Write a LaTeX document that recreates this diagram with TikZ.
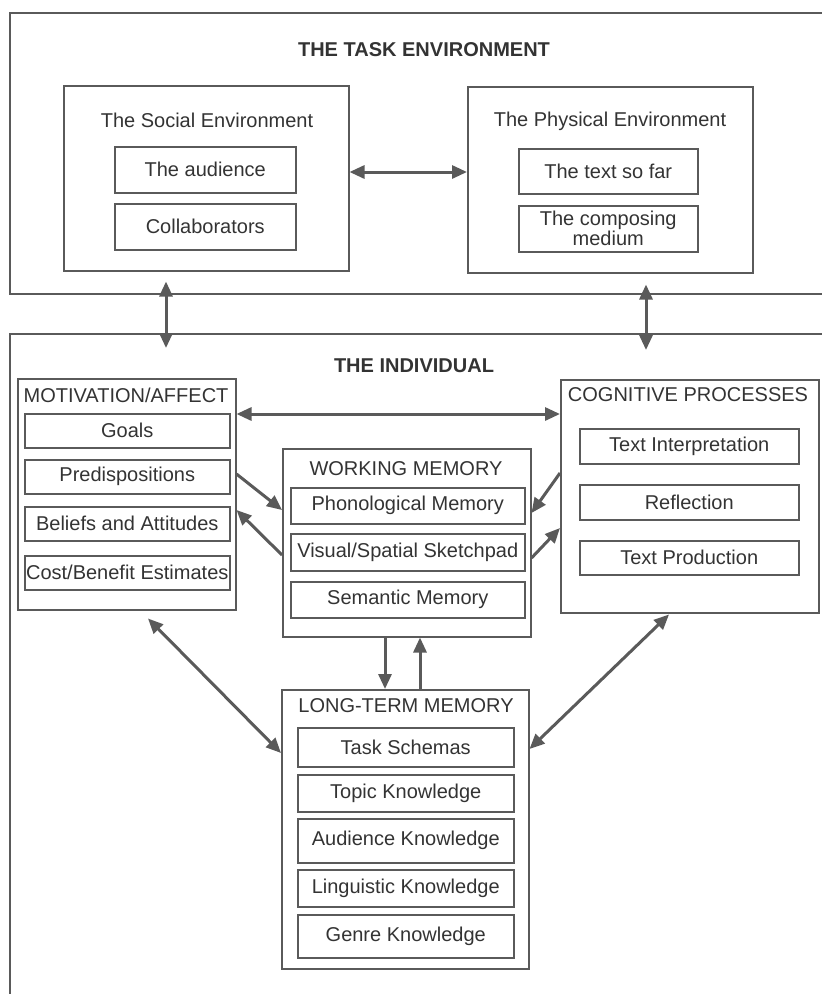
\documentclass[tikz,border=0pt]{standalone}
\usepackage{fontspec}
\setmainfont{Liberation Sans}
\usetikzlibrary{arrows.meta, calc, positioning}
\definecolor{linegray}{HTML}{5A5A5A}
\definecolor{textgray}{HTML}{333333}

\begin{document}
\begin{tikzpicture}[x=1pt, y=-1pt,
    every node/.style={font=\fontsize{20}{23}\selectfont, text=textgray},
    frame/.style={draw=linegray, line width=1.5pt, anchor=north west, inner sep=0pt},
    item/.style={draw=linegray, line width=1.5pt, anchor=north west, inner sep=0pt, align=center},
    heading/.style={font=\bfseries\fontsize{20}{24}\selectfont},
    link/.style={draw=linegray, line width=3pt, {Triangle[length=15pt,width=13pt]}-{Triangle[length=15pt,width=13pt]}},
    oneway/.style={draw=linegray, line width=3pt, -{Triangle[length=15pt,width=13pt]}}]
    \useasboundingbox (0,0) rectangle (822,994);
    \clip (0,0) rectangle (822,994);
    % the task environment
    \node[frame, minimum width=840pt, minimum height=281pt] (taskenv) at (9,12) {};
    \node[heading] (tasktitle) at (424,50) {THE TASK ENVIRONMENT};
    \node[frame, minimum width=285pt, minimum height=185pt] (social) at (63,85) {};
    \node (socialtitle) at (207,120) {The Social Environment};
    \node[item, minimum width=181pt, minimum height=46pt] (audience) at (114,146) {The audience};
    \node[item, minimum width=181pt, minimum height=46pt] (collab) at (114,203) {Collaborators};
    \node[frame, minimum width=285pt, minimum height=186pt] (physical) at (467,86) {};
    \node (physicaltitle) at (610,121) {The Physical Environment};
    \node[item, minimum width=179pt, minimum height=45pt] (textsofar) at (518,148) {The text so far};
    \node[item, minimum width=179pt, minimum height=46pt] (medium) at (518,205) {The composing\\[-3pt]medium};
    % the individual
    \node[frame, minimum width=840pt, minimum height=700pt] (individual) at (9,333) {};
    \node[heading] (indtitle) at (414,366) {THE INDIVIDUAL};
    \node[frame, minimum width=218pt, minimum height=231pt] (motiv) at (17,378) {};
    \node (motivtitle) at (126,395) {MOTIVATION/AFFECT};
    \node[item, minimum width=205pt, minimum height=34pt] (goals) at (24,413) {Goals};
    \node[item, minimum width=205pt, minimum height=34pt] (predisp) at (24,459) {Predispositions};
    \node[item, minimum width=205pt, minimum height=34pt] (beliefs) at (24,506) {Beliefs and Attitudes};
    \node[item, minimum width=205pt, minimum height=34pt] (costben) at (24,555) {Cost/Benefit Estimates};
    \node[frame, minimum width=258pt, minimum height=233pt] (cog) at (560,379) {};
    \node (cogtitle) at (688,395) {COGNITIVE PROCESSES};
    \node[item, minimum width=219pt, minimum height=35pt] (interp) at (579,428) {Text Interpretation};
    \node[item, minimum width=219pt, minimum height=35pt] (reflect) at (579,484) {Reflection};
    \node[item, minimum width=219pt, minimum height=34pt] (produce) at (579,540) {Text Production};
    \node[frame, minimum width=248pt, minimum height=188pt] (wm) at (282,448) {};
    \node (wmtitle) at (406,469) {WORKING MEMORY};
    \node[item, minimum width=234pt, minimum height=36pt] (phono) at (290,487) {Phonological Memory};
    \node[item, minimum width=234pt, minimum height=37pt] (visual) at (290,533) {Visual/Spatial Sketchpad};
    \node[item, minimum width=234pt, minimum height=36pt] (semantic) at (290,581) {Semantic Memory};
    \node[frame, minimum width=247pt, minimum height=279pt] (ltm) at (281,689) {};
    \node (ltmtitle) at (406,706) {LONG-TERM MEMORY};
    \node[item, minimum width=216pt, minimum height=39pt] (schemas) at (297,727) {Task Schemas};
    \node[item, minimum width=216pt, minimum height=37pt] (topic) at (297,774) {Topic Knowledge};
    \node[item, minimum width=216pt, minimum height=44pt] (audknow) at (297,818) {Audience Knowledge};
    \node[item, minimum width=216pt, minimum height=37pt] (ling) at (297,869) {Linguistic Knowledge};
    \node[item, minimum width=216pt, minimum height=43pt] (genre) at (297,914) {Genre Knowledge};
    % connectors
    \draw[link] ($(social.north east)+(0,87)$) -- ($(physical.north west)+(0,86)$);
    \draw[link] ($(taskenv.south west)+(157,-13)$) -- ($(individual.north west)+(157,15)$);
    \draw[link] ($(taskenv.south west)+(637,-10)$) -- ($(individual.north west)+(637,17)$);
    \draw[link] ($(motiv.north east)+(0,36)$) -- ($(cog.north west)+(0,35)$);
    \draw[oneway] ($(motiv.north east)+(0,96)$) -- ($(wm.north west)+(0,62)$);
    \draw[oneway] ($(wm.north west)+(0,107)$) -- ($(motiv.north east)+(0,132)$);
    \draw[oneway] ($(cog.north west)+(0,94)$) -- ($(wm.north east)+(0,65)$);
    \draw[oneway] ($(wm.north east)+(0,110)$) -- ($(cog.north west)+(0,149)$);
    \draw[link] ($(motiv.south west)+(131,8)$) -- ($(ltm.north west)+(0,64)$);
    \draw[link] ($(cog.south west)+(109,1)$) -- ($(ltm.north east)+(0,60)$);
    \draw[oneway] ($(wm.south west)+(103,0)$) -- ($(ltm.north west)+(104,0)$);
    \draw[oneway] ($(ltm.north west)+(139,0)$) -- ($(wm.south west)+(138,0)$);
\end{tikzpicture}
\end{document}
